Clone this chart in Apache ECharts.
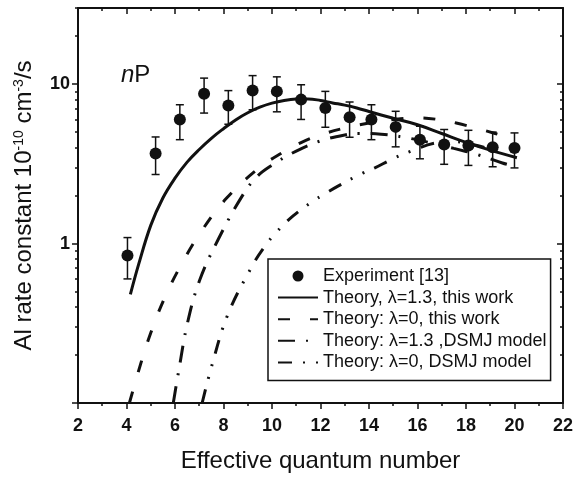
<!DOCTYPE html>
<html>
<head>
<meta charset="utf-8">
<script src="https://cdn.jsdelivr.net/npm/echarts@6/dist/echarts.min.js"></script>
<style>
  html, body { margin: 0; padding: 0; background: #fff; }
  #chart { width: 576px; height: 479px; }
</style>
</head>
<body>
<div id="chart"></div>
<script>
// experiment [13]: n*, rate, error bar low / high
var expN   = [4.04, 5.2, 6.2, 7.2, 8.2, 9.2, 10.2, 11.2, 12.2, 13.2, 14.1, 15.1, 16.1, 17.1, 18.1, 19.1, 20.0];
var expVal = [0.84, 3.67, 5.99, 8.71, 7.33, 9.1, 9.0, 7.99, 7.08, 6.19, 5.99, 5.39, 4.48, 4.18, 4.12, 4.02, 3.97];
var expLo  = [0.60, 2.71, 4.48, 6.58, 5.6, 6.9, 6.7, 6.0, 5.36, 4.64, 4.48, 4.04, 3.40, 3.14, 3.09, 3.03, 2.98];
var expHi  = [1.09, 4.66, 7.42, 10.9, 9.1, 11.3, 11.1, 9.9, 9.0, 7.72, 7.42, 6.75, 5.44, 5.19, 5.13, 5.0, 4.94];

// theory, lambda=1.3, this work
var thN1 = [4.16, 4.5, 5, 5.5, 6, 6.5, 7, 7.5, 8, 8.5, 9, 9.5, 10, 10.5, 11, 11.5, 12, 12.5, 13, 13.5, 14, 15, 16, 17, 18, 19, 20.1];
var thV1 = [0.48, 0.74, 1.3, 1.93, 2.57, 3.24, 3.89, 4.57, 5.25, 5.96, 6.61, 7.16, 7.59, 7.89, 8.05, 8.07, 7.89, 7.62, 7.38, 7.08, 6.73, 6.1, 5.56, 4.9, 4.31, 3.85, 3.45];
// theory, lambda=0, this work
var thN2 = [4.12, 4.6, 5.05, 5.6, 6.27, 7.08, 8.12, 9.42, 10.4, 11.2, 12, 13, 14, 15, 16, 17, 17.6, 18.6, 19.2, 20];
var thV2 = [0.1, 0.179, 0.289, 0.466, 0.743, 1.19, 1.92, 2.94, 3.7, 4.3, 4.8, 5.3, 5.7, 6.0, 6.15, 5.95, 5.7, 5.2, 4.9, 4.5];
// theory, lambda=1.3, DSMJ model
var thN3 = [5.93, 6.15, 6.52, 7.02, 7.78, 8.73, 9.34, 10, 11, 12, 13, 13.6, 14.5, 15.4, 16.5, 17.5, 18.5, 19.5, 20];
var thV3 = [0.1, 0.158, 0.32, 0.59, 1.06, 1.94, 2.59, 3.1, 3.8, 4.4, 4.8, 4.9, 4.85, 4.65, 4.3, 3.95, 3.6, 3.2, 3.05];
// theory, lambda=0, DSMJ model
var thN4 = [7.12, 7.53, 8.19, 9.22, 9.68, 10.13, 10.87, 11.64, 12.18, 12.72, 13.68, 14.24, 14.98, 15.74, 16.73, 17.5, 18.5, 19.5];
var thV4 = [0.1, 0.174, 0.362, 0.74, 0.95, 1.155, 1.49, 1.82, 2.05, 2.29, 2.74, 2.98, 3.4, 3.8, 4.27, 4.35, 4.1, 3.7];

var majorY = [0.1, 1, 10];
var labelY = [1, 10];
var minorY = [0.2, 0.3, 0.4, 0.5, 0.6, 0.7, 0.8, 0.9, 2, 3, 4, 5, 6, 7, 8, 9, 20, 30];

var names = ['Experiment [13]', 'Theory, \u03bb=1.3, this work', 'Theory: \u03bb=0, this work',
             'Theory: \u03bb=1.3 ,DSMJ model', 'Theory: \u03bb=0, DSMJ model'];

function pairs(xs, ys) {
    var out = [];
    for (var i = 0; i < xs.length; i++) out.push([xs[i], ys[i]]);
    return out;
}
var errData = [];
for (var i = 0; i < expN.length; i++) errData.push([expN[i], expLo[i], expHi[i]]);

var ink = '#111';
var font = '"Liberation Sans", Arial, sans-serif';

function renderErr(params, api) {
    var x = api.value(0);
    var top = api.coord([x, api.value(2)]);
    var bot = api.coord([x, api.value(1)]);
    var w = 4;
    var st = { stroke: ink, lineWidth: 1.5 };
    return {
        type: 'group',
        children: [
            { type: 'line', shape: { x1: top[0], y1: top[1], x2: bot[0], y2: bot[1] }, style: st },
            { type: 'line', shape: { x1: top[0] - w, y1: top[1], x2: top[0] + w, y2: top[1] }, style: st },
            { type: 'line', shape: { x1: bot[0] - w, y1: bot[1], x2: bot[0] + w, y2: bot[1] }, style: st }
        ]
    };
}

function yAxisOf(pos, minor, main) {
    return {
        type: 'log', logBase: 10, min: 0.1, max: 30, position: pos,
        name: main ? 'Al rate constant 10{s|-10} cm{s|-3}/s' : '',
        nameLocation: 'middle', nameGap: 42,
        nameTextStyle: {
            fontFamily: font, fontSize: 24, color: ink,
            rich: { s: { fontFamily: font, fontSize: 14, color: ink, verticalAlign: 'top', lineHeight: 24 } }
        },
        axisLine: { show: !minor, lineStyle: { color: ink, width: 2 } },
        axisTick: {
            show: true, inside: pos === 'right', length: minor ? 3 : 6,
            customValues: minor ? minorY : majorY,
            lineStyle: { color: ink, width: 1.5 }
        },
        axisLabel: {
            show: !!main, customValues: labelY, margin: 8,
            fontFamily: font, fontSize: 18, fontWeight: 'bold', color: ink
        },
        splitLine: { show: false }
    };
}

function theory(name, xs, ys, dash) {
    return {
        name: name, type: 'line', smooth: 0.4, symbol: 'none',
        lineStyle: { color: ink, width: 3, type: dash },
        itemStyle: { color: ink, opacity: 0 },
        data: pairs(xs, ys)
    };
}

var chart = echarts.init(document.getElementById('chart'));
var option = {
    backgroundColor: '#fff',
    animation: false,
    title: {
        text: '{i|n}P', left: 116, top: 58,
        textStyle: {
            fontFamily: font, fontSize: 24, fontWeight: 'normal', color: ink,
            rich: { i: { fontFamily: font, fontSize: 24, fontStyle: 'italic', color: ink } }
        }
    },
    grid: { left: 78, right: 11, top: 8, bottom: 76 },
    legend: {
        orient: 'vertical', left: 268, top: 259,
        padding: [8, 4, 9, 9],
        itemWidth: 40, itemHeight: 11, itemGap: 3.6,
        borderColor: ink, borderWidth: 1.5,
        data: names,
        textStyle: { fontFamily: font, fontSize: 18, color: ink, lineHeight: 18 }
    },
    xAxis: [{
        type: 'value', min: 2, max: 22, interval: 2, position: 'bottom',
        name: 'Effective quantum number', nameLocation: 'middle', nameGap: 46,
        nameTextStyle: { fontFamily: font, fontSize: 24, color: ink },
        axisLine: { lineStyle: { color: ink, width: 2 } },
        axisTick: { length: 6, lineStyle: { color: ink, width: 1.5 } },
        minorTick: { show: true, splitNumber: 2, length: 3, lineStyle: { color: ink, width: 1.5 } },
        axisLabel: { margin: 14, fontFamily: font, fontSize: 18, fontWeight: 'bold', color: ink },
        splitLine: { show: false }
    }, {
        type: 'value', min: 2, max: 22, interval: 2, position: 'top',
        axisLine: { lineStyle: { color: ink, width: 2 } },
        axisTick: { inside: true, length: 6, lineStyle: { color: ink, width: 1.5 } },
        minorTick: { show: true, splitNumber: 2, length: 3, lineStyle: { color: ink, width: 1.5 } },
        axisLabel: { show: false },
        splitLine: { show: false }
    }],
    yAxis: [
        yAxisOf('left', false, true),
        yAxisOf('left', true, false),
        yAxisOf('right', false, false),
        yAxisOf('right', true, false)
    ],
    series: [{
        name: names[0], type: 'scatter', symbol: 'circle', symbolSize: 12,
        itemStyle: { color: ink, opacity: 1 }, z: 5,
        data: pairs(expN, expVal)
    }, {
        type: 'custom', renderItem: renderErr, z: 4,
        encode: { x: 0, y: [1, 2] }, data: errData, silent: true
    },
        theory(names[1], thN1, thV1, 'solid'),
        theory(names[2], thN2, thV2, [12, 20]),
        theory(names[3], thN3, thV3, [17, 11, 2, 11]),
        theory(names[4], thN4, thV4, [14, 11, 2, 11, 2, 11])
    ]
};
chart.setOption(option);
</script>
</body>
</html>
